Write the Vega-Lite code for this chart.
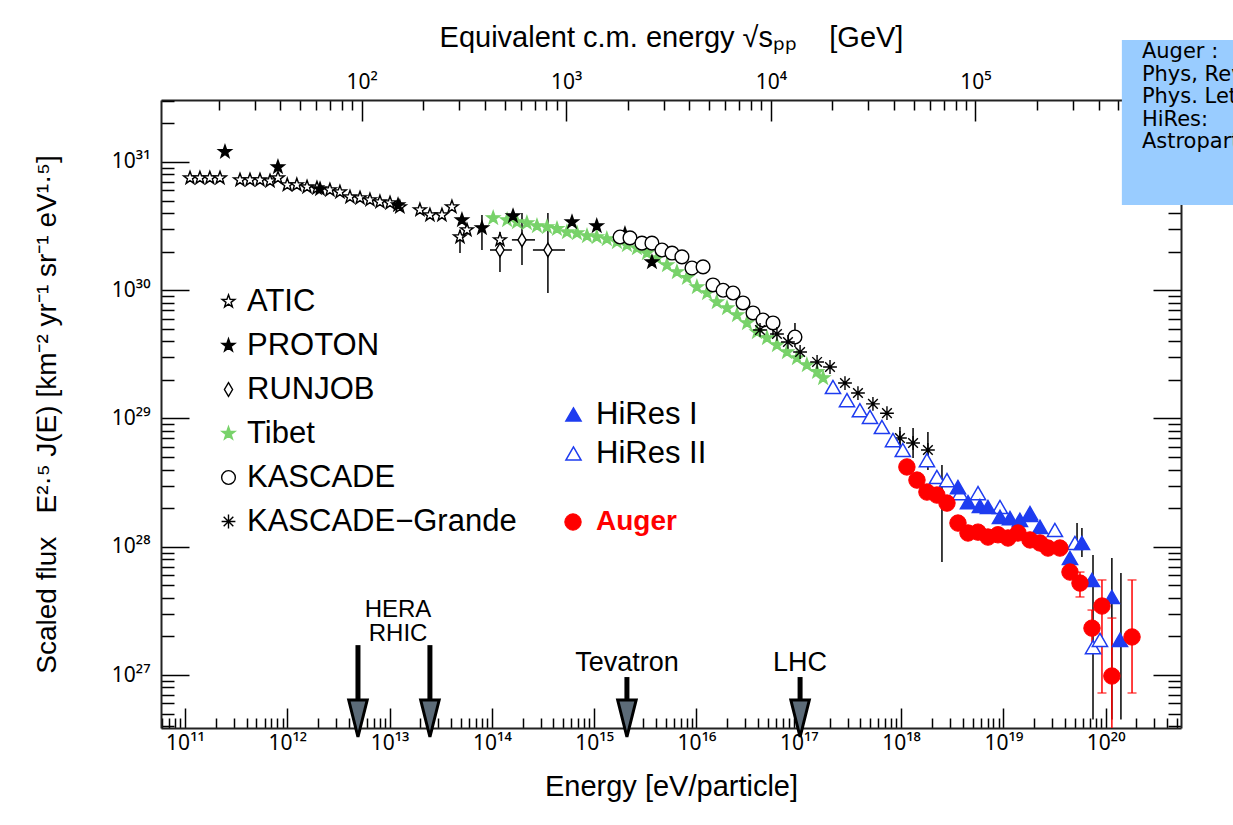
{
  "$schema": "https://vega.github.io/schema/vega-lite/v6.json",
  "width": 1020,
  "height": 628,
  "autosize": {"type": "none"},
  "padding": {"left": 161, "top": 100, "right": 52, "bottom": 97},
  "background": "white",
  "config": {"view": {"stroke": null}, "font": "Liberation Sans"},
  "datasets": {
    "pts": [
      {"series": "Tibet", "E": 1.03e14, "F": 3.66e30}, {"series": "Tibet", "E": 1.41e14, "F": 3.53e30}, {"series": "Tibet", "E": 1.76e14, "F": 3.40e30}, {"series": "Tibet", "E": 2.20e14, "F": 3.34e30}, {"series": "Tibet", "E": 2.76e14, "F": 3.17e30}, {"series": "Tibet", "E": 3.46e14, "F": 3.11e30}, {"series": "Tibet", "E": 4.33e14, "F": 3.01e30}, {"series": "Tibet", "E": 5.42e14, "F": 2.84e30}, {"series": "Tibet", "E": 6.79e14, "F": 2.79e30}, {"series": "Tibet", "E": 8.51e14, "F": 2.65e30}, {"series": "Tibet", "E": 1.06e15, "F": 2.60e30}, {"series": "Tibet", "E": 1.33e15, "F": 2.51e30}, {"series": "Tibet", "E": 1.67e15, "F": 2.38e30}, {"series": "Tibet", "E": 2.09e15, "F": 2.25e30}, {"series": "Tibet", "E": 2.62e15, "F": 2.13e30}, {"series": "Tibet", "E": 3.28e15, "F": 1.95e30}, {"series": "Tibet", "E": 4.11e15, "F": 1.78e30}, {"series": "Tibet", "E": 5.15e15, "F": 1.57e30}, {"series": "Tibet", "E": 6.44e15, "F": 1.39e30}, {"series": "Tibet", "E": 8.07e15, "F": 1.25e30}, {"series": "Tibet", "E": 1.01e16, "F": 1.06e30}, {"series": "Tibet", "E": 1.27e16, "F": 9.52e29}, {"series": "Tibet", "E": 1.58e16, "F": 8.09e29}, {"series": "Tibet", "E": 1.99e16, "F": 7.27e29}, {"series": "Tibet", "E": 2.49e16, "F": 6.41e29}, {"series": "Tibet", "E": 3.12e16, "F": 5.56e29}, {"series": "Tibet", "E": 3.90e16, "F": 4.72e29}, {"series": "Tibet", "E": 4.89e16, "F": 4.25e29}, {"series": "Tibet", "E": 6.12e16, "F": 3.74e29}, {"series": "Tibet", "E": 7.67e16, "F": 3.30e29}, {"series": "Tibet", "E": 9.60e16, "F": 2.96e29}, {"series": "Tibet", "E": 1.20e17, "F": 2.61e29}, {"series": "Tibet", "E": 1.51e17, "F": 2.31e29}, {"series": "Tibet", "E": 1.73e17, "F": 2.07e29},
      {"series": "ATIC", "E": 1.12e11, "F": 7.50e30}, {"series": "ATIC", "E": 1.40e11, "F": 7.50e30}, {"series": "ATIC", "E": 1.75e11, "F": 7.50e30}, {"series": "ATIC", "E": 2.20e11, "F": 7.50e30}, {"series": "ATIC", "E": 3.45e11, "F": 7.24e30}, {"series": "ATIC", "E": 4.32e11, "F": 7.24e30}, {"series": "ATIC", "E": 5.41e11, "F": 7.24e30}, {"series": "ATIC", "E": 6.78e11, "F": 7.11e30}, {"series": "ATIC", "E": 8.11e11, "F": 7.50e30}, {"series": "ATIC", "E": 1.0e12, "F": 6.62e30}, {"series": "ATIC", "E": 1.24e12, "F": 6.62e30}, {"series": "ATIC", "E": 1.56e12, "F": 6.38e30}, {"series": "ATIC", "E": 1.95e12, "F": 6.27e30}, {"series": "ATIC", "E": 2.61e12, "F": 6.05e30}, {"series": "ATIC", "E": 3.27e12, "F": 5.83e30}, {"series": "ATIC", "E": 4.10e12, "F": 5.33e30}, {"series": "ATIC", "E": 5.14e12, "F": 5.24e30}, {"series": "ATIC", "E": 6.43e12, "F": 5.06e30}, {"series": "ATIC", "E": 8.05e12, "F": 4.88e30}, {"series": "ATIC", "E": 1.01e13, "F": 4.79e30}, {"series": "ATIC", "E": 1.26e13, "F": 4.46e30}, {"series": "ATIC", "E": 1.98e13, "F": 4.23e30}, {"series": "ATIC", "E": 2.48e13, "F": 3.86e30}, {"series": "ATIC", "E": 3.25e13, "F": 3.86e30}, {"series": "ATIC", "E": 4.07e13, "F": 4.46e30}, {"series": "ATIC", "E": 4.88e13, "F": 2.60e30}, {"series": "ATIC", "E": 5.71e13, "F": 2.95e30}, {"series": "ATIC", "E": 1.20e14, "F": 2.47e30},
      {"series": "PROTON", "E": 2.46e11, "F": 1.20e31}, {"series": "PROTON", "E": 8.11e11, "F": 9.14e30}, {"series": "PROTON", "E": 2.09e12, "F": 6.15e30}, {"series": "PROTON", "E": 1.21e13, "F": 4.62e30}, {"series": "PROTON", "E": 5.10e13, "F": 3.53e30}, {"series": "PROTON", "E": 8.0e13, "F": 3.06e30}, {"series": "PROTON", "E": 1.61e14, "F": 3.79e30}, {"series": "PROTON", "E": 6.07e14, "F": 3.40e30}, {"series": "PROTON", "E": 1.06e15, "F": 3.17e30}, {"series": "PROTON", "E": 2.0e15, "F": 2.75e30}, {"series": "PROTON", "E": 3.67e15, "F": 1.66e30},
      {"series": "RUNJOB", "E": 1.20e14, "F": 2.06e30}, {"series": "RUNJOB", "E": 1.97e14, "F": 2.47e30}, {"series": "RUNJOB", "E": 3.53e14, "F": 2.06e30},
      {"series": "KASCADE", "E": 1.79e15, "F": 2.60e30}, {"series": "KASCADE", "E": 2.24e15, "F": 2.56e30}, {"series": "KASCADE", "E": 2.93e15, "F": 2.33e30}, {"series": "KASCADE", "E": 3.67e15, "F": 2.33e30}, {"series": "KASCADE", "E": 4.60e15, "F": 2.06e30}, {"series": "KASCADE", "E": 5.77e15, "F": 1.95e30}, {"series": "KASCADE", "E": 7.21e15, "F": 1.82e30}, {"series": "KASCADE", "E": 9.04e15, "F": 1.49e30}, {"series": "KASCADE", "E": 1.16e16, "F": 1.52e30}, {"series": "KASCADE", "E": 1.45e16, "F": 1.10e30}, {"series": "KASCADE", "E": 1.82e16, "F": 1.00e30}, {"series": "KASCADE", "E": 2.28e16, "F": 9.52e29}, {"series": "KASCADE", "E": 2.85e16, "F": 7.96e29}, {"series": "KASCADE", "E": 3.57e16, "F": 6.65e29}, {"series": "KASCADE", "E": 4.47e16, "F": 5.86e29}, {"series": "KASCADE", "E": 5.60e16, "F": 5.56e29}, {"series": "KASCADE", "E": 9.18e16, "F": 4.32e29},
      {"series": "KASCADE−Grande", "E": 4.18e16, "F": 4.90e29}, {"series": "KASCADE−Grande", "E": 6.12e16, "F": 4.56e29}, {"series": "KASCADE−Grande", "E": 7.84e16, "F": 3.95e29}, {"series": "KASCADE−Grande", "E": 1.03e17, "F": 3.30e29}, {"series": "KASCADE−Grande", "E": 1.51e17, "F": 2.76e29}, {"series": "KASCADE−Grande", "E": 2.02e17, "F": 2.52e29}, {"series": "KASCADE−Grande", "E": 2.83e17, "F": 1.89e29}, {"series": "KASCADE−Grande", "E": 3.79e17, "F": 1.58e29}, {"series": "KASCADE−Grande", "E": 5.31e17, "F": 1.30e29}, {"series": "KASCADE−Grande", "E": 7.28e17, "F": 1.10e29}, {"series": "KASCADE−Grande", "E": 9.75e17, "F": 7.05e28}, {"series": "KASCADE−Grande", "E": 1.31e18, "F": 6.44e28}, {"series": "KASCADE−Grande", "E": 1.83e18, "F": 5.68e28},
      {"series": "HiRes II", "E": 2.16e17, "F": 1.76e29}, {"series": "HiRes II", "E": 2.96e17, "F": 1.39e29}, {"series": "HiRes II", "E": 3.96e17, "F": 1.16e29}, {"series": "HiRes II", "E": 4.97e17, "F": 1.03e29}, {"series": "HiRes II", "E": 6.50e17, "F": 8.59e28}, {"series": "HiRes II", "E": 8.34e17, "F": 6.79e28}, {"series": "HiRes II", "E": 1.04e18, "F": 5.68e28}, {"series": "HiRes II", "E": 1.79e18, "F": 4.74e28}, {"series": "HiRes II", "E": 2.24e18, "F": 3.50e28}, {"series": "HiRes II", "E": 2.81e18, "F": 3.31e28}, {"series": "HiRes II", "E": 3.77e18, "F": 2.62e28}, {"series": "HiRes II", "E": 5.65e18, "F": 2.62e28}, {"series": "HiRes II", "E": 9.27e18, "F": 2.04e28}, {"series": "HiRes II", "E": 1.82e19, "F": 1.83e28}, {"series": "HiRes II", "E": 3.19e19, "F": 1.35e28}, {"series": "HiRes II", "E": 5.01e19, "F": 1.07e28}, {"series": "HiRes II", "E": 7.52e19, "F": 1.65e27}, {"series": "HiRes II", "E": 8.79e19, "F": 1.88e27},
      {"series": "HiRes I", "E": 3.60e18, "F": 2.92e28}, {"series": "HiRes I", "E": 4.51e18, "F": 2.23e28}, {"series": "HiRes I", "E": 5.90e18, "F": 2.08e28}, {"series": "HiRes I", "E": 7.07e18, "F": 2.04e28}, {"series": "HiRes I", "E": 9.27e18, "F": 1.71e28}, {"series": "HiRes I", "E": 1.16e19, "F": 1.67e28}, {"series": "HiRes I", "E": 1.45e19, "F": 1.62e28}, {"series": "HiRes I", "E": 1.82e19, "F": 1.77e28}, {"series": "HiRes I", "E": 2.28e19, "F": 1.43e28}, {"series": "HiRes I", "E": 4.48e19, "F": 8.17e27}, {"series": "HiRes I", "E": 5.86e19, "F": 1.07e28}, {"series": "HiRes I", "E": 7.35e19, "F": 5.51e27}, {"series": "HiRes I", "E": 1.15e20, "F": 4.06e27}, {"series": "HiRes I", "E": 1.38e20, "F": 1.88e27},
      {"series": "Auger", "E": 1.14e18, "F": 4.19e28}, {"series": "Auger", "E": 1.43e18, "F": 3.31e28}, {"series": "Auger", "E": 1.79e18, "F": 2.67e28}, {"series": "Auger", "E": 2.24e18, "F": 2.53e28}, {"series": "Auger", "E": 2.81e18, "F": 2.19e28}, {"series": "Auger", "E": 3.60e18, "F": 1.53e28}, {"series": "Auger", "E": 4.51e18, "F": 1.28e28}, {"series": "Auger", "E": 5.65e18, "F": 1.30e28}, {"series": "Auger", "E": 7.07e18, "F": 1.19e28}, {"series": "Auger", "E": 8.85e18, "F": 1.24e28}, {"series": "Auger", "E": 1.11e19, "F": 1.17e28}, {"series": "Auger", "E": 1.39e19, "F": 1.28e28}, {"series": "Auger", "E": 1.82e19, "F": 1.13e28}, {"series": "Auger", "E": 2.28e19, "F": 1.07e28}, {"series": "Auger", "E": 2.73e19, "F": 9.77e27}, {"series": "Auger", "E": 3.57e19, "F": 9.77e27}, {"series": "Auger", "E": 4.48e19, "F": 6.35e27}, {"series": "Auger", "E": 5.61e19, "F": 5.21e27}, {"series": "Auger", "E": 7.35e19, "F": 2.32e27}, {"series": "Auger", "E": 9.20e19, "F": 3.45e27}, {"series": "Auger", "E": 1.15e20, "F": 9.82e26}, {"series": "Auger", "E": 1.81e20, "F": 1.98e27}
    ],
    "err": [
      {"series": "ATIC", "E": 4.88e13, "lo": 1.95e30, "hi": 2.95e30},
      {"series": "PROTON", "E": 8.0e13, "lo": 2.06e30, "hi": 3.86e30},
      {"series": "RUNJOB", "E": 1.20e14, "lo": 1.39e30, "hi": 2.84e30},
      {"series": "RUNJOB", "E": 1.97e14, "lo": 1.57e30, "hi": 4.0e30},
      {"series": "RUNJOB", "E": 3.53e14, "lo": 9.5e29, "hi": 4.0e30},
      {"series": "KASCADE", "E": 5.60e16, "lo": 4.32e29, "hi": 6.18e29},
      {"series": "KASCADE", "E": 9.18e16, "lo": 3.61e29, "hi": 5.56e29},
      {"series": "KASCADE−Grande", "E": 9.75e17, "lo": 5.48e28, "hi": 8.59e28},
      {"series": "KASCADE−Grande", "E": 1.31e18, "lo": 4.92e28, "hi": 8.43e28},
      {"series": "KASCADE−Grande", "E": 1.83e18, "lo": 3.96e28, "hi": 7.85e28},
      {"series": "HiRes", "E": 2.51e18, "lo": 7.6e27, "hi": 4.34e28},
      {"series": "HiRes", "E": 5.25e19, "lo": 9.44e27, "hi": 1.53e28},
      {"series": "HiRes", "E": 5.86e19, "lo": 8.32e27, "hi": 1.40e28},
      {"series": "HiRes", "E": 7.52e19, "lo": 4.5e26, "hi": 8.63e27},
      {"series": "HiRes", "E": 1.15e20, "lo": 4.5e26, "hi": 8.17e27},
      {"series": "HiRes", "E": 1.41e20, "lo": 4.5e26, "hi": 6.24e27},
      {"series": "Auger", "E": 5.61e19, "lo": 4.06e27, "hi": 6.35e27},
      {"series": "Auger", "E": 7.35e19, "lo": 1.49e27, "hi": 3.21e27},
      {"series": "Auger", "E": 9.20e19, "lo": 7.24e26, "hi": 5.51e27},
      {"series": "Auger", "E": 1.15e20, "lo": 3.0e26, "hi": 2.78e27},
      {"series": "Auger", "E": 1.81e20, "lo": 7.24e26, "hi": 5.51e27}
    ],
    "hbar": [
      {"series": "RUNJOB", "E1": 9.58e13, "E2": 1.57e14, "F": 2.06e30},
      {"series": "RUNJOB", "E1": 1.57e14, "E2": 2.64e14, "F": 2.47e30},
      {"series": "RUNJOB", "E1": 2.52e14, "E2": 5.19e14, "F": 2.06e30}
    ],
    "acc": [
      {"name": "HERA", "E": 4.91e12, "top": 1.71e27},
      {"name": "RHIC", "E": 2.48e13, "top": 1.71e27},
      {"name": "Tevatron", "E": 2.09e15, "top": 9.64e26},
      {"name": "LHC", "E": 1.03e17, "top": 9.64e26}
    ]
  },
  "layer": [
    {
      "layer": [
        {
          "data": {"name": "err"},
          "mark": {"type": "rule", "strokeWidth": 1.5, "clip": true},
          "encoding": {
            "x": {"field": "E", "type": "quantitative", "scale": {"type": "log", "domain": [5.83e10, 5.45e20], "nice": false, "zero": false},
              "axis": {"orient": "bottom", "grid": false,
                "values": [6e10,7e10,8e10,9e10,1e11,2e11,3e11,4e11,5e11,6e11,7e11,8e11,9e11,1e12,2e12,3e12,4e12,5e12,6e12,7e12,8e12,9e12,1e13,2e13,3e13,4e13,5e13,6e13,7e13,8e13,9e13,1e14,2e14,3e14,4e14,5e14,6e14,7e14,8e14,9e14,1e15,2e15,3e15,4e15,5e15,6e15,7e15,8e15,9e15,1e16,2e16,3e16,4e16,5e16,6e16,7e16,8e16,9e16,1e17,2e17,3e17,4e17,5e17,6e17,7e17,8e17,9e17,1e18,2e18,3e18,4e18,5e18,6e18,7e18,8e18,9e18,1e19,2e19,3e19,4e19,5e19,6e19,7e19,8e19,9e19,1e20,2e20,3e20,4e20,5e20],
                "labelExpr": "abs(log(datum.value)/LN10 - round(log(datum.value)/LN10)) < 0.001 ? '10' + substring('⁰¹²³⁴⁵⁶⁷⁸⁹', floor(round(log(datum.value)/LN10)/10), floor(round(log(datum.value)/LN10)/10)+1) + substring('⁰¹²³⁴⁵⁶⁷⁸⁹', round(log(datum.value)/LN10)%10, round(log(datum.value)/LN10)%10+1) : ''",
                "tickSize": {"condition": {"test": "abs(log(datum.value)/LN10 - round(log(datum.value)/LN10)) < 0.001", "value": -20}, "value": -10},
                "tickColor": "black", "tickWidth": 1.5, "domainColor": "#222222", "domainWidth": 2,
                "labelFont": "Noto Sans", "labelFontSize": 21, "labelColor": "black", "labelPadding": 24,
                "labelOverlap": false, "labelFlush": false, "labelBound": false,
                "title": "Energy [eV/particle]", "titleFont": "Liberation Sans", "titleFontSize": 29, "titleFontWeight": "normal", "titleColor": "black", "titlePadding": 9}},
            "y": {"field": "lo", "type": "quantitative", "scale": {"type": "log", "domain": [3.862e26, 3.043e31], "nice": false, "zero": false},
              "axis": {"orient": "left", "grid": false,
                "values": [4e26,5e26,6e26,7e26,8e26,9e26,1e27,2e27,3e27,4e27,5e27,6e27,7e27,8e27,9e27,1e28,2e28,3e28,4e28,5e28,6e28,7e28,8e28,9e28,1e29,2e29,3e29,4e29,5e29,6e29,7e29,8e29,9e29,1e30,2e30,3e30,4e30,5e30,6e30,7e30,8e30,9e30,1e31,2e31,3e31],
                "labelExpr": "abs(log(datum.value)/LN10 - round(log(datum.value)/LN10)) < 0.001 ? '10' + substring('⁰¹²³⁴⁵⁶⁷⁸⁹', floor(round(log(datum.value)/LN10)/10), floor(round(log(datum.value)/LN10)/10)+1) + substring('⁰¹²³⁴⁵⁶⁷⁸⁹', round(log(datum.value)/LN10)%10, round(log(datum.value)/LN10)%10+1) : ''",
                "tickSize": {"condition": {"test": "abs(log(datum.value)/LN10 - round(log(datum.value)/LN10)) < 0.001", "value": -28}, "value": -13},
                "tickColor": "black", "tickWidth": 1.5, "domainColor": "#222222", "domainWidth": 2,
                "labelFont": "Noto Sans", "labelFontSize": 21, "labelColor": "black", "labelPadding": 39,
                "labelOverlap": false, "labelFlush": false, "labelBound": false,
                "title": "Scaled flux\u00a0\u00a0\u00a0E²·⁵ J(E) [km⁻² yr⁻¹ sr⁻¹ eV¹·⁵]", "titleFont": "Liberation Sans", "titleFontSize": 28, "titleFontWeight": "normal", "titleColor": "black", "titlePadding": 50}},
            "y2": {"field": "hi"},
            "color": {"condition": {"test": "datum.series === 'Auger'", "value": "#ff0000"}, "value": "#000000"}
          }
        },
        {
          "data": {"name": "hbar"},
          "mark": {"type": "rule", "strokeWidth": 1.5, "color": "black", "clip": true},
          "encoding": {
            "x": {"field": "E1", "type": "quantitative", "scale": {"type": "log", "domain": [5.83e10, 5.45e20], "nice": false, "zero": false}},
            "x2": {"field": "E2"},
            "y": {"field": "F", "type": "quantitative", "scale": {"type": "log", "domain": [3.862e26, 3.043e31], "nice": false, "zero": false}}
          }
        },
        {
          "data": {"name": "err"},
          "transform": [{"filter": "datum.series === 'Auger'"}],
          "mark": {"type": "tick", "orient": "horizontal", "size": 9, "thickness": 1.5, "color": "#ff0000", "clip": true},
          "encoding": {
            "x": {"field": "E", "type": "quantitative", "scale": {"type": "log", "domain": [5.83e10, 5.45e20], "nice": false, "zero": false}},
            "y": {"field": "hi", "type": "quantitative", "scale": {"type": "log", "domain": [3.862e26, 3.043e31], "nice": false, "zero": false}}
          }
        },
        {
          "data": {"name": "err"},
          "transform": [{"filter": "datum.series === 'Auger' && datum.lo > 4e26"}],
          "mark": {"type": "tick", "orient": "horizontal", "size": 9, "thickness": 1.5, "color": "#ff0000", "clip": true},
          "encoding": {
            "x": {"field": "E", "type": "quantitative", "scale": {"type": "log", "domain": [5.83e10, 5.45e20], "nice": false, "zero": false}},
            "y": {"field": "lo", "type": "quantitative", "scale": {"type": "log", "domain": [3.862e26, 3.043e31], "nice": false, "zero": false}}
          }
        },
        {
          "data": {"name": "pts"},
          "transform": [{"filter": "indexof(['ATIC','PROTON','RUNJOB','Tibet','KASCADE','KASCADE−Grande'], datum.series) >= 0"}],
          "mark": {"type": "point", "opacity": 1, "clip": true},
          "encoding": {
            "x": {"field": "E", "type": "quantitative", "scale": {"type": "log", "domain": [5.83e10, 5.45e20], "nice": false, "zero": false}},
            "y": {"field": "F", "type": "quantitative", "scale": {"type": "log", "domain": [3.862e26, 3.043e31], "nice": false, "zero": false}},
            "shape": {"field": "series", "type": "nominal",
              "scale": {"domain": ["ATIC","PROTON","RUNJOB","Tibet","KASCADE","KASCADE−Grande"],
                "range": ["M0,-1L0.235,-0.324L0.951,-0.309L0.38,0.124L0.588,0.809L0,0.4L-0.588,0.809L-0.38,0.124L-0.951,-0.309L-0.235,-0.324Z", "M0,-1L0.235,-0.324L0.951,-0.309L0.38,0.124L0.588,0.809L0,0.4L-0.588,0.809L-0.38,0.124L-0.951,-0.309L-0.235,-0.324Z", "M0,-1L0.6,0L0,1L-0.6,0Z", "M0,-1L0.235,-0.324L0.951,-0.309L0.38,0.124L0.588,0.809L0,0.4L-0.588,0.809L-0.38,0.124L-0.951,-0.309L-0.235,-0.324Z", "circle", "M-1,0L1,0M0,-1L0,1M-0.7,-0.7L0.7,0.7M-0.7,0.7L0.7,-0.7"]},
              "legend": {"orient": "none", "legendX": 52, "legendY": 186, "title": null, "labelFont": "Liberation Sans", "labelFontSize": 31, "labelColor": "black", "labelLimit": 500, "rowPadding": 12, "labelOffset": 3, "padding": 0}},
            "fill": {"field": "series", "type": "nominal",
              "scale": {"domain": ["ATIC","PROTON","RUNJOB","Tibet","KASCADE","KASCADE−Grande"], "range": ["white","black","white","#78d26a","white","transparent"]},
              "legend": {"orient": "none", "legendX": 52, "legendY": 186, "title": null, "labelFont": "Liberation Sans", "labelFontSize": 31, "labelColor": "black", "labelLimit": 500, "rowPadding": 12, "labelOffset": 3, "padding": 0}},
            "stroke": {"field": "series", "type": "nominal",
              "scale": {"domain": ["ATIC","PROTON","RUNJOB","Tibet","KASCADE","KASCADE−Grande"], "range": ["black","black","black","#78d26a","black","black"]},
              "legend": {"orient": "none", "legendX": 52, "legendY": 186, "title": null, "labelFont": "Liberation Sans", "labelFontSize": 31, "labelColor": "black", "labelLimit": 500, "rowPadding": 12, "labelOffset": 3, "padding": 0}},
            "size": {"field": "series", "type": "nominal",
              "scale": {"domain": ["ATIC","PROTON","RUNJOB","Tibet","KASCADE","KASCADE−Grande"], "range": [180, 190, 150, 380, 110, 560]},
              "legend": {"orient": "none", "legendX": 52, "legendY": 186, "title": null, "labelFont": "Liberation Sans", "labelFontSize": 31, "labelColor": "black", "labelLimit": 500, "rowPadding": 12, "labelOffset": 3, "padding": 0}},
            "strokeWidth": {"field": "series", "type": "nominal",
              "scale": {"domain": ["ATIC","PROTON","RUNJOB","Tibet","KASCADE","KASCADE−Grande"], "range": [1.4, 1.4, 1.4, 1.4, 1.4, 1.8]},
              "legend": {"orient": "none", "legendX": 52, "legendY": 186, "title": null, "labelFont": "Liberation Sans", "labelFontSize": 31, "labelColor": "black", "labelLimit": 500, "rowPadding": 12, "labelOffset": 3, "padding": 0}}
          }
        },
        {
          "data": {"name": "pts"},
          "transform": [{"filter": "datum.series === 'HiRes I' || datum.series === 'HiRes II'"}],
          "mark": {"type": "point", "strokeWidth": 1.5, "opacity": 1, "clip": true, "shape": "triangle-up", "size": 230},
          "encoding": {
            "x": {"field": "E", "type": "quantitative", "scale": {"type": "log", "domain": [5.83e10, 5.45e20], "nice": false, "zero": false}},
            "y": {"field": "F", "type": "quantitative", "scale": {"type": "log", "domain": [3.862e26, 3.043e31], "nice": false, "zero": false}},
            "fill": {"field": "series", "type": "nominal",
              "scale": {"domain": ["HiRes I","HiRes II"], "range": ["#1e3cf0","white"]},
              "legend": {"orient": "none", "legendX": 397, "legendY": 299, "title": null, "labelFont": "Liberation Sans", "labelFontSize": 31, "labelColor": "black", "rowPadding": 7, "labelOffset": 7, "padding": 0, "symbolStrokeWidth": 1.5, "symbolType": "triangle-up", "symbolSize": 230}},
            "stroke": {"field": "series", "type": "nominal",
              "scale": {"domain": ["HiRes I","HiRes II"], "range": ["#1e3cf0","#1e3cf0"]},
              "legend": {"orient": "none", "legendX": 397, "legendY": 299, "title": null, "labelFont": "Liberation Sans", "labelFontSize": 31, "labelColor": "black", "rowPadding": 7, "labelOffset": 7, "padding": 0, "symbolStrokeWidth": 1.5, "symbolType": "triangle-up", "symbolSize": 230}}
          }
        },
        {
          "data": {"name": "pts"},
          "transform": [{"filter": "datum.series === 'Auger'"}],
          "mark": {"type": "point", "strokeWidth": 1, "opacity": 1, "clip": true, "shape": "circle", "size": 270},
          "encoding": {
            "x": {"field": "E", "type": "quantitative", "scale": {"type": "log", "domain": [5.83e10, 5.45e20], "nice": false, "zero": false}},
            "y": {"field": "F", "type": "quantitative", "scale": {"type": "log", "domain": [3.862e26, 3.043e31], "nice": false, "zero": false}},
            "fill": {"field": "series", "type": "nominal",
              "scale": {"domain": ["Auger"], "range": ["#ff0000"]},
              "legend": {"orient": "none", "legendX": 398, "legendY": 408, "title": null, "labelFont": "Liberation Sans", "labelFontSize": 28, "labelFontWeight": "bold", "labelColor": "#ff0000", "labelOffset": 9, "padding": 0, "symbolType": "circle", "symbolSize": 270, "symbolStrokeWidth": 1}},
            "stroke": {"field": "series", "type": "nominal",
              "scale": {"domain": ["Auger"], "range": ["#ff0000"]},
              "legend": {"orient": "none", "legendX": 398, "legendY": 408, "title": null, "labelFont": "Liberation Sans", "labelFontSize": 28, "labelFontWeight": "bold", "labelColor": "#ff0000", "labelOffset": 9, "padding": 0, "symbolType": "circle", "symbolSize": 270, "symbolStrokeWidth": 1}}
          }
        },
        {
          "data": {"name": "acc"},
          "mark": {"type": "rule", "strokeWidth": 5, "color": "black", "clip": false},
          "encoding": {
            "x": {"field": "E", "type": "quantitative", "scale": {"type": "log", "domain": [5.83e10, 5.45e20], "nice": false, "zero": false}},
            "y": {"field": "top", "type": "quantitative", "scale": {"type": "log", "domain": [3.862e26, 3.043e31], "nice": false, "zero": false}},
            "y2": {"datum": 6.0e26}
          }
        },
        {
          "data": {"name": "acc"},
          "mark": {"type": "point", "shape": "M-0.5,-1L0.5,-1L0,1Z", "size": 1369, "filled": true, "fill": "#5c6b78", "stroke": "black", "strokeWidth": 3, "opacity": 1, "clip": false},
          "encoding": {
            "x": {"field": "E", "type": "quantitative", "scale": {"type": "log", "domain": [5.83e10, 5.45e20], "nice": false, "zero": false}},
            "y": {"datum": 4.58e26}
          }
        },
        {
          "data": {"name": "acc"},
          "transform": [{"filter": "datum.name === 'Tevatron' || datum.name === 'LHC'"}],
          "mark": {"type": "text", "baseline": "bottom", "align": "center", "dy": 0, "fontSize": 27, "font": "Liberation Sans", "color": "black", "clip": false},
          "encoding": {
            "x": {"field": "E", "type": "quantitative", "scale": {"type": "log", "domain": [5.83e10, 5.45e20], "nice": false, "zero": false}},
            "y": {"field": "top", "type": "quantitative", "scale": {"type": "log", "domain": [3.862e26, 3.043e31], "nice": false, "zero": false}},
            "text": {"field": "name"}
          }
        },
        {
          "data": {"values": [{"label": "HERA / RHIC"}]},
          "mark": {"type": "text", "baseline": "top", "align": "center", "fontSize": 24, "lineHeight": 24, "font": "Liberation Sans", "color": "black", "clip": false},
          "encoding": {
            "x": {"datum": 1.21e13},
            "y": {"datum": 4.0e27},
            "text": {"value": ["HERA", "RHIC"]}
          }
        },
        {
          "data": {"values": [{"label": "references"}]},
          "mark": {"type": "rect", "color": "#99ccff", "clip": false},
          "encoding": {
            "x": {"datum": 1.44e20},
            "x2": {"datum": 3.0e21},
            "y": {"datum": 8.93e31},
            "y2": {"datum": 4.62e30}
          }
        },
        {
          "data": {"values": [{"label": "references"}]},
          "mark": {"type": "text", "baseline": "top", "align": "left", "fontSize": 21, "lineHeight": 22.5, "font": "DejaVu Sans", "color": "black", "clip": false},
          "encoding": {
            "x": {"datum": 2.26e20},
            "y": {"datum": 8.75e31},
            "text": {"value": ["Auger :", "Phys, Rev. Lett.", "Phys. Lett. B", "HiRes:", "Astropart. Phys."]}
          }
        }
      ],
      "resolve": {"scale": {"shape": "independent", "fill": "independent", "stroke": "independent", "size": "independent", "strokeWidth": "independent"}}
    },
    {
      "data": {"values": [{"s": 100, "F": 1e30}]},
      "mark": {"type": "point", "opacity": 0},
      "encoding": {
        "x": {"field": "s", "type": "quantitative", "scale": {"type": "log", "domain": [10.455, 1.0109e6], "nice": false, "zero": false},
          "axis": {"orient": "top", "grid": false,
            "values": [20,30,40,50,60,70,80,90,100,200,300,400,500,600,700,800,900,1000,2000,3000,4000,5000,6000,7000,8000,9000,10000,20000,30000,40000,50000,60000,70000,80000,90000,100000,200000,300000,400000,500000,600000,700000,800000,900000],
            "labelExpr": "abs(log(datum.value)/LN10 - round(log(datum.value)/LN10)) < 0.001 ? '10' + substring('⁰¹²³⁴⁵⁶⁷⁸⁹', round(log(datum.value)/LN10), round(log(datum.value)/LN10)+1) : ''",
            "tickSize": {"condition": {"test": "abs(log(datum.value)/LN10 - round(log(datum.value)/LN10)) < 0.001", "value": -21}, "value": -10},
            "tickColor": "black", "tickWidth": 1.5, "domainColor": "#222222", "domainWidth": 2,
            "labelFont": "Noto Sans", "labelFontSize": 21, "labelColor": "black", "labelPadding": 29,
            "labelOverlap": false, "labelFlush": false, "labelBound": false,
            "title": "Equivalent c.m. energy √sₚₚ\u00a0\u00a0\u00a0\u00a0[GeV]", "titleFont": "Liberation Sans", "titleFontSize": 29, "titleFontWeight": "normal", "titleColor": "black", "titlePadding": 8}},
        "y": {"field": "F", "type": "quantitative", "scale": {"type": "log", "domain": [3.862e26, 3.043e31], "nice": false, "zero": false},
          "axis": {"orient": "right", "grid": false, "labels": false, "title": null,
            "values": [4e26,5e26,6e26,7e26,8e26,9e26,1e27,2e27,3e27,4e27,5e27,6e27,7e27,8e27,9e27,1e28,2e28,3e28,4e28,5e28,6e28,7e28,8e28,9e28,1e29,2e29,3e29,4e29,5e29,6e29,7e29,8e29,9e29,1e30,2e30,3e30,4e30,5e30,6e30,7e30,8e30,9e30,1e31,2e31,3e31],
            "tickSize": {"condition": {"test": "abs(log(datum.value)/LN10 - round(log(datum.value)/LN10)) < 0.001", "value": -28}, "value": -13},
            "tickColor": "black", "tickWidth": 1.5, "domainColor": "#222222", "domainWidth": 2}}
      }
    }
  ],
  "resolve": {"scale": {"x": "independent", "y": "independent"}}
}
